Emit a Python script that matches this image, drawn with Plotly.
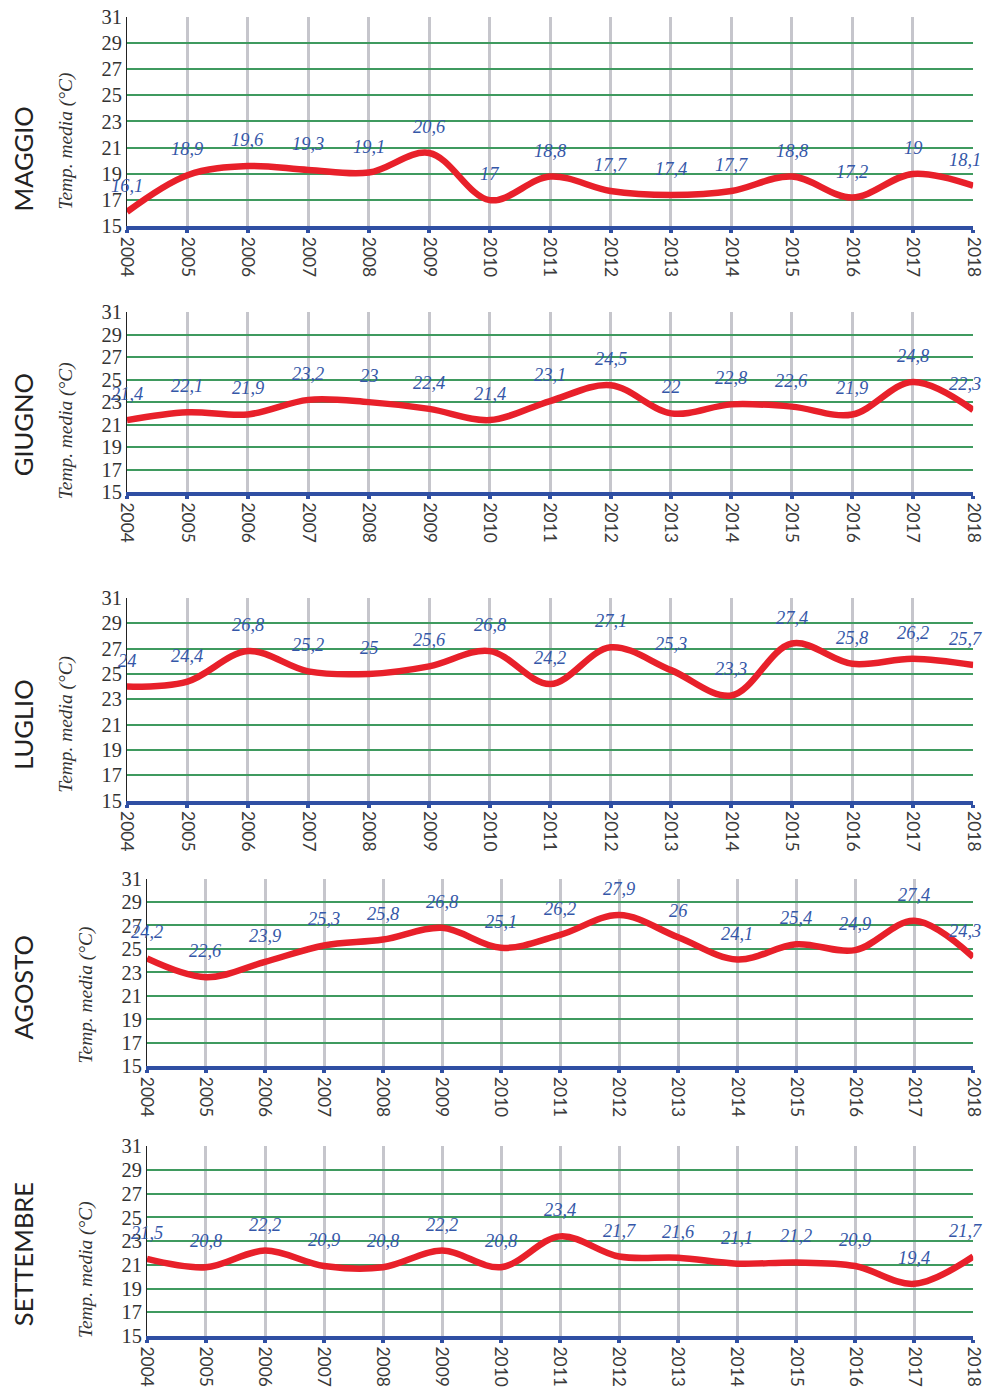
import plotly.graph_objects as go

years = list(range(2004, 2019))
months = ["MAGGIO", "GIUGNO", "LUGLIO", "AGOSTO", "SETTEMBRE"]
maggio = [16.1, 18.9, 19.6, 19.3, 19.1, 20.6, 17.0, 18.8, 17.7, 17.4, 17.7, 18.8, 17.2, 19.0, 18.1]
giugno = [21.4, 22.1, 21.9, 23.2, 23.0, 22.4, 21.4, 23.1, 24.5, 22.0, 22.8, 22.6, 21.9, 24.8, 22.3]
luglio = [24.0, 24.4, 26.8, 25.2, 25.0, 25.6, 26.8, 24.2, 27.1, 25.3, 23.3, 27.4, 25.8, 26.2, 25.7]
agosto = [24.2, 22.6, 23.9, 25.3, 25.8, 26.8, 25.1, 26.2, 27.9, 26.0, 24.1, 25.4, 24.9, 27.4, 24.3]
settembre = [21.5, 20.8, 22.2, 20.9, 20.8, 22.2, 20.8, 23.4, 21.7, 21.6, 21.1, 21.2, 20.9, 19.4, 21.7]
series = [maggio, giugno, luglio, agosto, settembre]
y_ticks = list(range(15, 32, 2))
y_title = "Temp. media (°C)"

# figure size; the page is shown with a body margin and a slight downscale,
# so map target picture pixels to figure pixels (measured from renders)
W, H = 995, 1403
KX, AX = 0.9798, 8.9
KY, AY = 0.9855, 10.4

# plot area pixel boxes in the target picture: (left, right, top, bottom)
boxes = [(126, 973, 16, 226), (126, 973, 312, 492), (126, 973, 598, 801),
         (146, 973, 879, 1067), (146, 973, 1147, 1337)]
month_cy = [159, 425, 725, 988, 1255]
title_cy = [141, 431, 725, 996, 1271]
title_cx = [65, 65, 65, 85, 85]

RED = "#e8202a"
BLUE = "#2f4fa3"
LBL = "#3557a8"
GRID_G = "#3f9a5f"
GRID_V = "#c6c6cc"


def px(x):
    return ((x - AX) / KX) / W


def py(y):
    return 1 - ((y - AY) / KY) / H


def fs(s):
    return round(s / KX, 1)


fig = go.Figure()
layout = dict(width=W, height=H, margin=dict(l=0, r=0, t=0, b=0), autosize=False,
              paper_bgcolor="white", plot_bgcolor="white", showlegend=False)
annotations = []
for i, (name, vals) in enumerate(zip(months, series)):
    n = i + 1
    xa = "x" if n == 1 else f"x{n}"
    ya = "y" if n == 1 else f"y{n}"
    l, r, t, b = boxes[i]
    fig.add_trace(go.Scatter(x=years, y=vals, mode="lines",
                             line=dict(color=RED, width=6.5, shape="spline", smoothing=1.0),
                             xaxis=xa, yaxis=ya, hoverinfo="skip"))
    layout[f"xaxis{n}"] = dict(domain=[px(l), px(r)], anchor=ya, range=[2004, 2018],
                               tickmode="array", tickvals=years, ticktext=[str(v) for v in years],
                               tickangle=90, showgrid=True, gridcolor=GRID_V, gridwidth=2.5,
                               showline=True, linecolor=BLUE, linewidth=4,
                               ticks="outside", ticklen=3, tickwidth=4, tickcolor=BLUE,
                               ticklabeloverflow="allow",
                               tickfont=dict(family="Lato", size=fs(17), color="#3a3a3a"),
                               zeroline=False, fixedrange=True)
    layout[f"yaxis{n}"] = dict(domain=[py(b), py(t)], anchor=xa, range=[15, 31],
                               tickmode="array", tickvals=y_ticks, ticktext=[str(v) for v in y_ticks],
                               showgrid=True, gridcolor=GRID_G, gridwidth=1.5,
                               showline=True, linecolor="#222222", linewidth=1,
                               ticks="", ticklabeloverflow="allow",
                               tickfont=dict(family="Liberation Serif", size=fs(20), color="#333333"),
                               zeroline=False, fixedrange=True)
    for yr, v in zip(years, vals):
        txt = (f"{v:.1f}".rstrip("0").rstrip(".")).replace(".", ",")
        xs = -8 if yr == 2018 else 0
        annotations.append(dict(x=yr, y=v, xref=xa, yref=ya, text=f"<i>{txt}</i>",
                                showarrow=False, yshift=26, xshift=xs,
                                xanchor="center", yanchor="middle",
                                font=dict(family="Liberation Serif", size=fs(18), color=LBL)))
    annotations.append(dict(x=px(22), y=py(month_cy[i]), xref="paper", yref="paper",
                            xanchor="center", yanchor="middle",
                            text=name, textangle=-90, showarrow=False,
                            font=dict(family="Lato", size=fs(25), color="#222222")))
    annotations.append(dict(x=px(title_cx[i]), y=py(title_cy[i]), xref="paper", yref="paper",
                            xanchor="center", yanchor="middle",
                            text=f"<i>{y_title}</i>", textangle=-90, showarrow=False,
                            font=dict(family="Liberation Serif", size=fs(19), color="#333333")))

layout["annotations"] = annotations
fig.update_layout(**layout)
fig.write_html("out.html")
